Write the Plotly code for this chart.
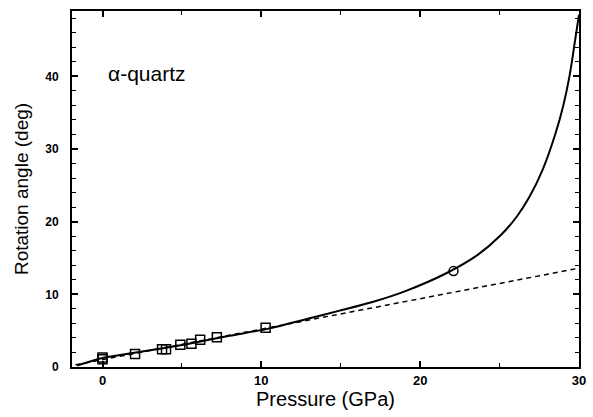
import plotly.graph_objects as go

# Measured rotation angle of alpha-quartz vs pressure
p_sq = [0.0, 0.0, 2.05, 3.75, 4.0, 4.9, 5.6, 6.15, 7.2, 10.27]
theta_sq = [1.05, 1.3, 1.8, 2.45, 2.45, 3.05, 3.2, 3.75, 4.1, 5.4]
p_circ = [22.1]
theta_circ = [13.2]

# Fitted curve (solid) sampled along its length
p_fit = [-1.6, 0.0, 2.0, 4.0, 6.0, 8.0, 10.4, 12.86, 14.93, 17.0, 19.07, 21.55,
         23.6, 25.1, 26.1, 26.9, 27.7, 28.5, 29.0, 29.4, 29.73, 30.0]
theta_fit = [0.2, 1.25, 1.95, 2.65, 3.45, 4.3, 5.25, 6.6, 7.76, 8.95, 10.45, 12.8,
             15.4, 18.2, 20.75, 23.5, 27.1, 32.0, 35.9, 40.0, 44.6, 48.5]

# Linear extrapolation (dashed)
p_lin = [-1.7, 30.0]
theta_lin = [0.3, 13.6]

fig = go.Figure()
fig.add_trace(go.Scatter(x=p_lin, y=theta_lin, mode="lines",
                         line=dict(color="black", width=1.5, dash="5px,4px")))
fig.add_trace(go.Scatter(x=p_fit, y=theta_fit, mode="lines",
                         line=dict(color="black", width=2, shape="spline", smoothing=0.8)))
fig.add_trace(go.Scatter(x=p_sq, y=theta_sq, mode="markers",
                         marker=dict(symbol="square-open", size=9, color="black",
                                     line=dict(width=1.5))))
fig.add_trace(go.Scatter(x=p_circ, y=theta_circ, mode="markers",
                         marker=dict(symbol="circle-open", size=9, color="black",
                                     line=dict(width=1.5))))

axis_common = dict(
    showline=True, linecolor="black", linewidth=1.8, mirror="allticks",
    ticks="inside", ticklen=6, tickwidth=1.5, tickcolor="black",
    showgrid=False, zeroline=False,
)

fig.update_layout(
    width=593, height=417,
    margin=dict(l=72, r=7, t=11, b=50),
    paper_bgcolor="white", plot_bgcolor="white",
    showlegend=False,
    xaxis=dict(range=[-1.92, 30], tickvals=[0, 10, 20, 30],
               tickfont=dict(family="Liberation Sans, Arial", size=13, color="black", weight="bold"),
               minor=dict(dtick=5, ticks="inside", ticklen=4, tickwidth=1.2, tickcolor="black"),
               title=dict(text="Pressure (GPa)", standoff=4,
                          font=dict(family="Liberation Sans, Arial", size=20, color="black")),
               **axis_common),
    yaxis=dict(range=[0, 49], tickvals=[0, 10, 20, 30, 40], ticklabelstandoff=9,
               tickfont=dict(family="Liberation Sans, Arial", size=12, color="black", weight="bold"),
               minor=dict(dtick=2, ticks="inside", ticklen=4, tickwidth=1.2, tickcolor="black"),
               title=dict(text="Rotation angle (deg)", standoff=12,
                          font=dict(family="Liberation Sans, Arial", size=19, color="black")),
               **axis_common),
    annotations=[dict(x=0.2, y=40.4, xref="x", yref="y", text="α-quartz",
                      showarrow=False, xanchor="left", yanchor="middle",
                      font=dict(family="Liberation Sans, Arial", size=21, color="black"))],
)

fig.write_html("out.html")
